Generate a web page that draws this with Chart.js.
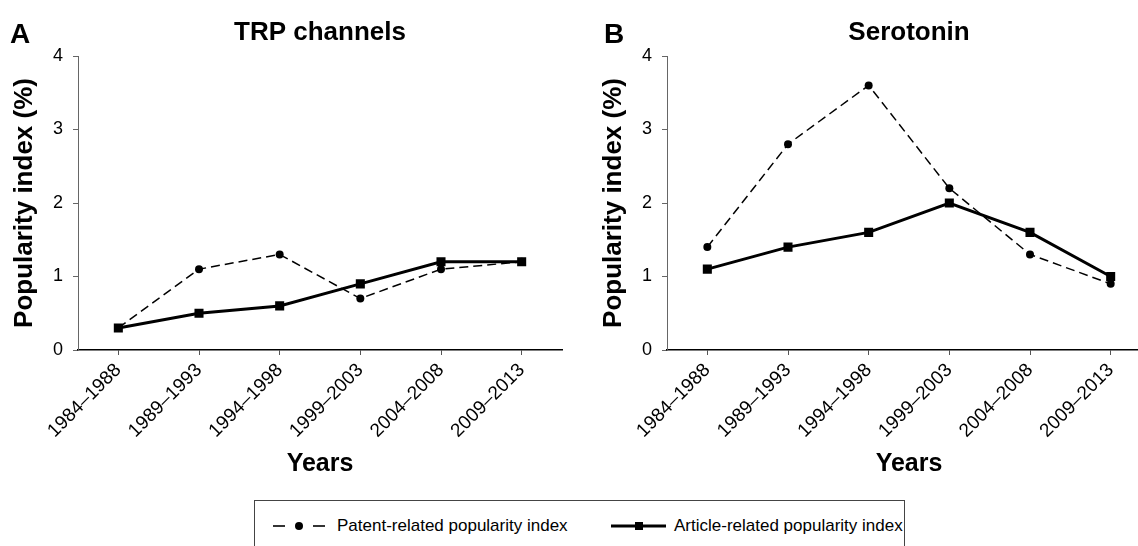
<!DOCTYPE html>
<html>
<head>
<meta charset="utf-8">
<script src="https://cdn.jsdelivr.net/npm/chart.js@4.4.0/dist/chart.umd.min.js"></script>
<style>
  html, body { margin: 0; padding: 0; background: #fff; width: 1138px; height: 546px; overflow: hidden; position: relative; font-family: "Liberation Sans", Arial, sans-serif; }
  canvas { position: absolute; top: 0; }
  .letter { position: absolute; font-weight: bold; font-size: 28px; line-height: 1; color: #000; }
  #legend { position: absolute; left: 254px; top: 500px; width: 651px; height: 60px; border: 1px solid #444; box-sizing: border-box; }
  .item { position: absolute; top: 15px; font-size: 17px; color: #000; display: flex; align-items: center; white-space: nowrap; }
  .item svg { margin-right: 5px; }
</style>
</head>
<body>
<canvas id="chartA" width="569" height="490" style="left:0px"></canvas>
<canvas id="chartB" width="569" height="490" style="left:589px"></canvas>
<div class="letter" style="left:10px; top:20px;">A</div>
<div class="letter" style="left:604px; top:20px;">B</div>
<div id="legend">
  <div class="item" style="left:17px;">
    <svg width="60" height="14"><line x1="1" y1="7" x2="13" y2="7" stroke="#000" stroke-width="1.6"/><line x1="41" y1="7" x2="53" y2="7" stroke="#000" stroke-width="1.6"/><circle cx="27" cy="7" r="4" fill="#000"/></svg>
    <span>Patent-related popularity index</span>
  </div>
  <div class="item" style="left:355px;">
    <svg width="59" height="14"><line x1="1" y1="7" x2="56" y2="7" stroke="#000" stroke-width="3"/><rect x="25" y="3" width="8" height="8" fill="#000"/></svg>
    <span>Article-related popularity index</span>
  </div>
</div>
<script>
const categories = ['1984–1988', '1989–1993', '1994–1998', '1999–2003', '2004–2008', '2009–2013'];
const trpPatent = [0.3, 1.1, 1.3, 0.7, 1.1, 1.2];
const trpArticle = [0.3, 0.5, 0.6, 0.9, 1.2, 1.2];
const seroPatent = [1.4, 2.8, 3.6, 2.2, 1.3, 0.9];
const seroArticle = [1.1, 1.4, 1.6, 2.0, 1.6, 1.0];
const yTicks = [0, 1, 2, 3, 4];
const titles = ['TRP channels', 'Serotonin'];
const seriesNames = ['Patent-related popularity index', 'Article-related popularity index'];

const FONT = '"Liberation Sans", Arial, sans-serif';
Chart.defaults.font.family = FONT;
Chart.defaults.color = '#000';

function makeChart(id, title, patent, article) {
  return new Chart(document.getElementById(id), {
    type: 'line',
    data: {
      labels: categories,
      datasets: [
        {
          label: seriesNames[0], data: patent, order: 1,
          borderColor: '#000', borderWidth: 1.5, borderDash: [9, 5],
          pointStyle: 'circle', pointRadius: 4, pointBackgroundColor: '#000', pointBorderWidth: 0,
          tension: 0, fill: false
        },
        {
          label: seriesNames[1], data: article, order: 0,
          borderColor: '#000', borderWidth: 3,
          pointStyle: 'rect', pointRadius: 6.4, pointBackgroundColor: '#000', pointBorderWidth: 0,
          tension: 0, fill: false
        }
      ]
    },
    options: {
      responsive: false,
      animation: false,
      events: [],
      layout: { padding: { left: 0, right: 7, top: 0, bottom: 0 } },
      plugins: {
        legend: { display: false },
        tooltip: { enabled: false },
        title: {
          display: true, text: title, fullSize: false,
          font: { size: 26, weight: 'bold', family: FONT }, color: '#000',
          padding: { top: 17.4, bottom: 7.4 }
        }
      },
      scales: {
        x: {
          type: 'category',
          offset: true,
          afterFit(scale) { scale.height = 140; },
          grid: { display: true, drawOnChartArea: false, drawTicks: true, tickLength: 5, color: '#555', lineWidth: 1, offset: false },
          border: { display: true, color: '#000', width: 1.5 },
          ticks: { autoSkip: false, maxRotation: 45, minRotation: 45, padding: 4, font: { size: 19, family: FONT }, color: '#000' },
          title: { display: true, text: 'Years', font: { size: 25, weight: 'bold', family: FONT }, color: '#000', padding: { top: 0, bottom: 11 } }
        },
        y: {
          min: 0, max: 4,
          afterFit(scale) { scale.width = 78; },
          afterBuildTicks(scale) { scale.ticks = yTicks.map(v => ({ value: v })); },
          grid: { display: true, drawOnChartArea: false, drawTicks: true, tickLength: 5, color: '#666', lineWidth: 1 },
          border: { display: true, color: '#666', width: 1 },
          ticks: { padding: 10, font: { size: 18, family: FONT }, color: '#000' },
          title: { display: true, text: 'Popularity index (%)', font: { size: 26, weight: 'bold', family: FONT }, color: '#000', padding: { top: 9.4, bottom: 0 } }
        }
      }
    }
  });
}

makeChart('chartA', titles[0], trpPatent, trpArticle);
makeChart('chartB', titles[1], seroPatent, seroArticle);
</script>
</body>
</html>
